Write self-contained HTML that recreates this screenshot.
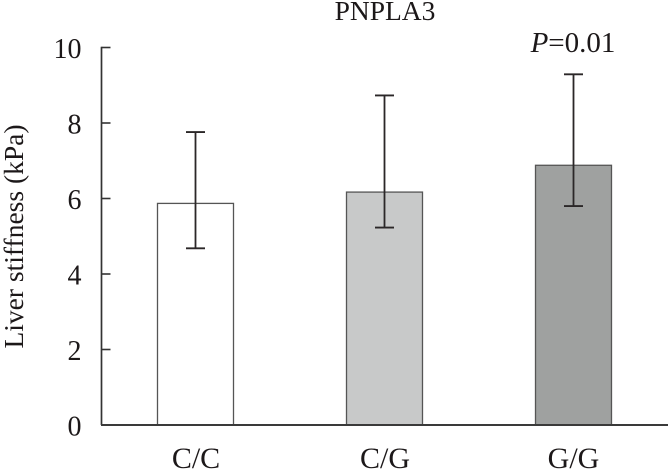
<!DOCTYPE html>
<html>
<head>
<meta charset="utf-8">
<style>
html,body{margin:0;padding:0;background:#fff;}
svg{display:block;}
text{font-family:"Liberation Serif",serif;fill:#1c1819;font-size:27.5px;}
</style>
</head>
<body>
<svg id="chart" width="668" height="470" viewBox="0 0 668 470">
<text x="385" y="20" text-anchor="middle">PNPLA3</text>
<text x="573" y="52" text-anchor="middle" style="font-size:29px"><tspan font-style="italic">P</tspan>=0.01</text>
<text transform="translate(23,236.5) rotate(-90)" text-anchor="middle">Liver stiffness (kPa)</text>
</svg>
<script>
const categories = ['C/C', 'C/G', 'G/G'];
const means = [5.87, 6.17, 6.88];
const errorUpper = [7.76, 8.73, 9.29];
const errorLower = [4.68, 5.23, 5.80];
const yTicks = [0, 2, 4, 6, 8, 10];
const barFills = ['#ffffff', '#c8c9c9', '#9fa1a0'];

const svg = document.getElementById('chart');
const NS = 'http://www.w3.org/2000/svg';
const yScale = v => 425 - v * 37.75;
const xScale = i => 195.5 + i * 189;
const barWidth = 76;

function make(tag, attrs, parent) {
  const el = document.createElementNS(NS, tag);
  for (const k in attrs) el.setAttribute(k, attrs[k]);
  (parent || svg).appendChild(el);
  return el;
}

categories.forEach((cat, i) => {
  const cx = xScale(i);
  const top = yScale(means[i]);
  const bar = make('rect', {x: cx - barWidth / 2, y: top, width: barWidth, height: 425 - top, fill: barFills[i], stroke: '#555555', 'stroke-width': 1.3});
  
  

  const err = make('path', {
    d: 'M' + (cx - 9.5) + ' ' + yScale(errorUpper[i]) + 'H' + (cx + 9.5) +
       'M' + cx + ' ' + yScale(errorUpper[i]) + 'V' + yScale(errorLower[i]) +
       'M' + (cx - 9.5) + ' ' + yScale(errorLower[i]) + 'H' + (cx + 9.5),
    fill: 'none', stroke: '#2b2728', 'stroke-width': 1.8
  });
  
  

  const label = make('text', {x: cx + (i === 2 ? 0 : 0.5), y: 468, 'text-anchor': 'middle', style: 'font-size:30px'});
  label.textContent = cat;
  
  
});

const yAxis = make('line', {x1: 101.5, x2: 101.5, y1: yScale(10) - 0.8, y2: 425, stroke: '#333333', 'stroke-width': 1.7});



const xAxis = make('line', {x1: 101, x2: 668, y1: 425, y2: 425, stroke: '#3a3a3a', 'stroke-width': 1.9});



yTicks.forEach(t => {
  const y = yScale(t);
  if (t !== 0) {
    const tick = make('line', {x1: 101.5, x2: 110.5, y1: y, y2: y, stroke: '#333333', 'stroke-width': 1.6});
    
    
  }
  const label = make('text', {x: 81.5, y: y + 10.5, 'text-anchor': 'end', style: 'font-size:28px'});
  label.textContent = t;
  
  
});
</script>
</body>
</html>
